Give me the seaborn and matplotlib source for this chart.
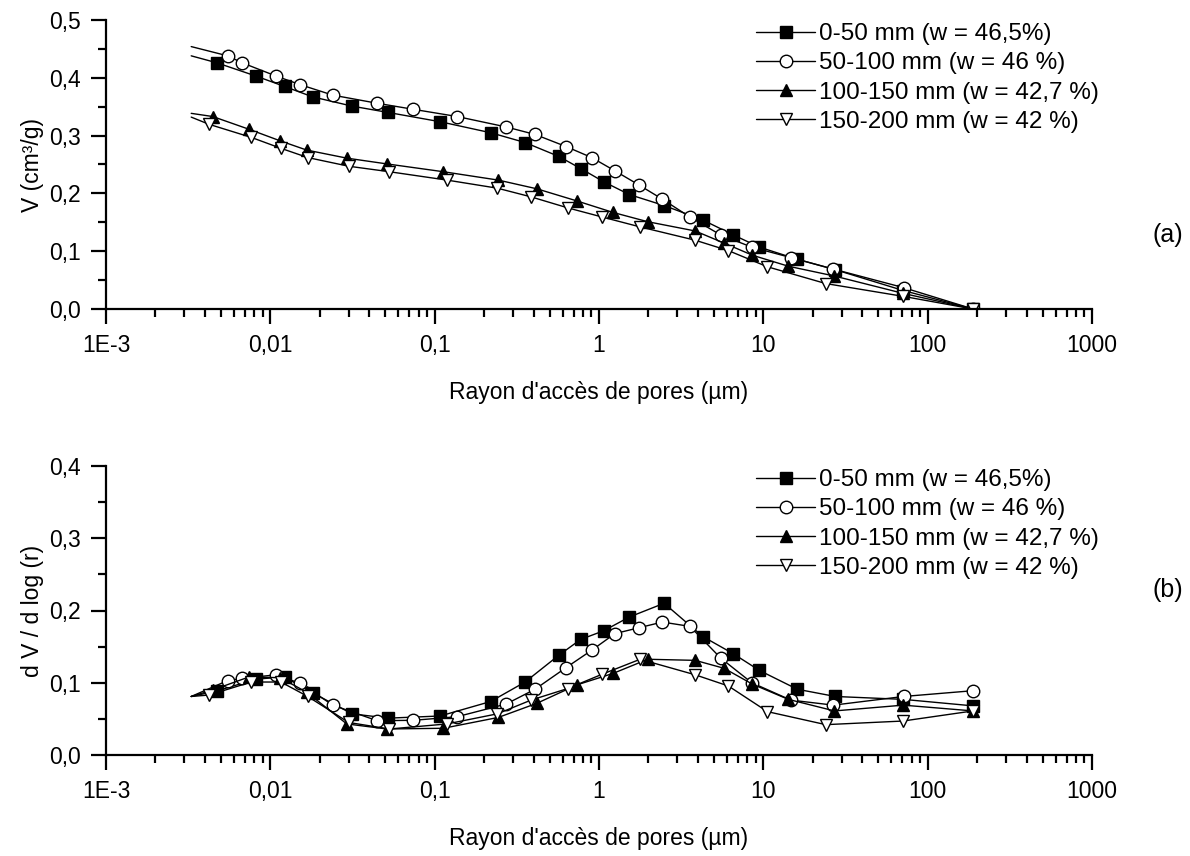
import matplotlib
matplotlib.use('Agg')
import matplotlib.pyplot as plt
import seaborn as sns
from matplotlib.ticker import FixedLocator, LogLocator, MultipleLocator, NullFormatter

# porosimetrie : rayon d'acces (um), volume cumule V et dV/dlog(r)
labels = ['0-50 mm (w = 46,5%)', '50-100 mm (w = 46 %)',
          '100-150 mm (w = 42,7 %)', '150-200 mm (w = 42 %)']

x_050 = [0.0033, 0.00472, 0.00818, 0.0122, 0.0181, 0.0314, 0.0522, 0.108, 0.219, 0.355, 0.569,
         0.774, 1.07, 1.53, 2.49, 4.28, 6.58, 9.47, 16.1, 27.4, 71, 189]
v_050 = [0.438, 0.426, 0.403, 0.385, 0.367, 0.351, 0.340, 0.324, 0.305, 0.288, 0.264,
         0.243, 0.220, 0.198, 0.179, 0.154, 0.128, 0.107, 0.086, 0.068, 0.032, 0.0]
dv_050 = [0.081, 0.0886, 0.105, 0.108, 0.086, 0.057, 0.051, 0.054, 0.074, 0.101, 0.138,
          0.160, 0.172, 0.191, 0.210, 0.164, 0.140, 0.117, 0.091, 0.081, 0.077, 0.068]

x_50100 = [0.0033, 0.0055, 0.00673, 0.01084, 0.01524, 0.024, 0.0446, 0.0741, 0.137, 0.272, 0.408,
           0.631, 0.903, 1.25, 1.74, 2.43, 3.58, 5.51, 8.51, 14.7, 26.7, 71.3, 189]
v_50100 = [0.454, 0.438, 0.426, 0.403, 0.388, 0.370, 0.356, 0.3455, 0.333, 0.315, 0.302,
           0.281, 0.262, 0.239, 0.215, 0.190, 0.159, 0.128, 0.107, 0.089, 0.069, 0.037, 0.0]
dv_50100 = [0.081, 0.103, 0.106, 0.111, 0.099, 0.069, 0.0475, 0.048, 0.053, 0.0705, 0.091,
            0.121, 0.145, 0.168, 0.176, 0.184, 0.178, 0.134, 0.100, 0.076, 0.069, 0.081, 0.089]

x_100150 = [0.0033, 0.00446, 0.00741, 0.01146, 0.01663, 0.0292, 0.0513, 0.113, 0.244, 0.418,
            0.733, 1.22, 1.98, 3.85, 5.77, 8.59, 14.2, 27.1, 71, 189]
v_100150 = [0.3385, 0.333, 0.311, 0.291, 0.275, 0.261, 0.251, 0.2375, 0.223, 0.208,
            0.187, 0.167, 0.151, 0.135, 0.114, 0.093, 0.074, 0.057, 0.027, 0.0]
dv_100150 = [0.081, 0.090, 0.108, 0.107, 0.087, 0.043, 0.036, 0.037, 0.052, 0.0715,
             0.097, 0.113, 0.1325, 0.131, 0.120, 0.098, 0.077, 0.061, 0.069, 0.061]

x_150200 = [0.0033, 0.00424, 0.00764, 0.0116, 0.0169, 0.030, 0.053, 0.119, 0.241, 0.386,
            0.645, 1.05, 1.78, 3.85, 6.13, 10.6, 24, 70.6, 189]
v_150200 = [0.332, 0.3195, 0.297, 0.278, 0.262, 0.247, 0.2375, 0.223, 0.209, 0.194,
            0.175, 0.159, 0.142, 0.119, 0.101, 0.073, 0.044, 0.022, 0.0]
dv_150200 = [0.081, 0.083, 0.101, 0.101, 0.081, 0.045, 0.036, 0.043, 0.057, 0.076,
             0.092, 0.112, 0.1325, 0.111, 0.0955, 0.060, 0.042, 0.047, 0.061]

xticks = [1e-3, 1e-2, 1e-1, 1, 10, 100, 1000]
xtick_labels = ['1E-3', '0,01', '0,1', '1', '10', '100', '1000']
yticks_a = [0.0, 0.1, 0.2, 0.3, 0.4, 0.5]
ytick_labels_a = ['0,0', '0,1', '0,2', '0,3', '0,4', '0,5']
yticks_b = [0.0, 0.1, 0.2, 0.3, 0.4]
ytick_labels_b = ['0,0', '0,1', '0,2', '0,3', '0,4']

xs = [x_050, x_50100, x_100150, x_150200]
vs = [v_050, v_50100, v_100150, v_150200]
dvs = [dv_050, dv_50100, dv_100150, dv_150200]
markers = ['s', 'o', '^', 'v']
faces = ['black', 'white', 'black', 'white']

sns.set_style('ticks')
plt.rcParams['font.family'] = ['Liberation Sans', 'DejaVu Sans']
plt.rcParams['font.size'] = 16
for k in ['text.color', 'axes.labelcolor', 'xtick.color', 'ytick.color', 'axes.edgecolor']:
    plt.rcParams[k] = 'black'

W, H = 1190, 856
fig = plt.figure(figsize=(W / 100, H / 100), dpi=100)
ax1 = fig.add_axes([106 / W, 1 - 309 / H, 986 / W, 289 / H])
ax2 = fig.add_axes([106 / W, 1 - 755 / H, 986 / W, 289 / H])


def draw(ax, ys, yticks, ytick_labels, ylabel, tag, legend_top):
    for x, y, m, fc, lab in zip(xs, ys, markers, faces, labels):
        sns.lineplot(x=x, y=y, ax=ax, color='black', lw=1.0, marker=m, markersize=9,
                     markerfacecolor=fc, markeredgecolor='black', markeredgewidth=1.0,
                     markevery=list(range(1, len(x))), label=lab,
                     estimator=None, sort=False)
    ax.set_xscale('log')
    ax.set_xlim(1e-3, 1e3)
    ax.set_ylim(yticks[0], yticks[-1])
    ax.xaxis.set_major_locator(FixedLocator(xticks))
    ax.set_xticklabels(xtick_labels)
    ax.xaxis.set_minor_locator(LogLocator(base=10, subs=range(2, 10), numticks=20))
    ax.xaxis.set_minor_formatter(NullFormatter())
    ax.set_yticks(yticks)
    ax.set_yticklabels(ytick_labels)
    ax.yaxis.set_minor_locator(MultipleLocator(0.05))
    for s in ['top', 'right']:
        ax.spines[s].set_visible(False)
    for s in ['left', 'bottom']:
        ax.spines[s].set_linewidth(1.6)
        ax.spines[s].set_color('black')
    ax.tick_params(which='major', direction='out', length=11, width=1.6, labelsize=16.5,
                   pad=7, color='black', labelcolor='black')
    ax.tick_params(which='minor', direction='out', length=6, width=1.6, color='black')
    ax.set_xlabel("Rayon d'accès de pores (µm)", fontsize=16.5, labelpad=17, color='black')
    ax.set_ylabel(ylabel, fontsize=16.5, labelpad=4, color='black')
    leg = ax.legend(loc='upper right', bbox_to_anchor=(1099 / W, 1 - legend_top / H),
                    bbox_transform=fig.transFigure, frameon=False, fontsize=17.5,
                    handlelength=2.45, handletextpad=0.15, labelspacing=0.3, borderpad=0,
                    borderaxespad=0)
    for t in leg.get_texts():
        t.set_color('black')
    fig.text(1168 / W, 1 - tag[1] / H, tag[0], fontsize=18, ha='center', va='center',
             color='black')


draw(ax1, vs, yticks_a, ytick_labels_a, 'V (cm³/g)', ('(a)', 235), 23)
draw(ax2, dvs, yticks_b, ytick_labels_b, 'd V / d log (r)', ('(b)', 590), 469)

fig.savefig('out.png', dpi=100)
